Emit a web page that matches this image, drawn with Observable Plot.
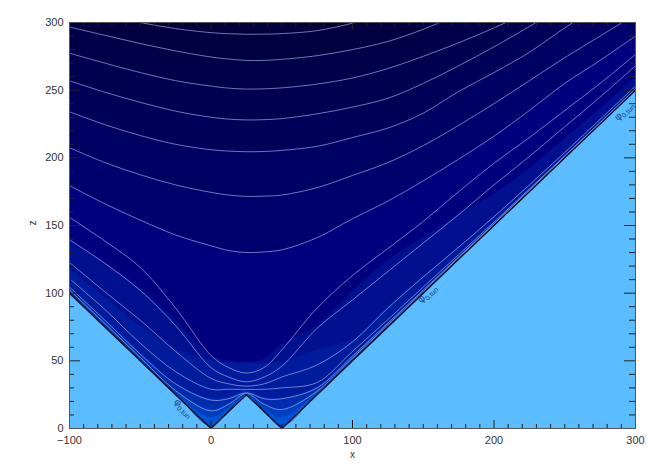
<!DOCTYPE html>
<html><head><meta charset="utf-8">
<script src="https://cdn.jsdelivr.net/npm/d3@7"></script>
<script src="https://cdn.jsdelivr.net/npm/@observablehq/plot@0.6"></script>
<style>body{margin:0;background:#fff;}</style>
</head><body><div id="chart"></div>
<script>
// sample x positions for every contour
const xs = [-100, -75, -50, -25, 0, 12.5, 25, 37.5, 50, 75, 100, 125, 150, 175, 200, 225, 250, 275, 300];
// surface (ground) profile
const ground = [100, 75, 50, 25, 0, 12.5, 25, 12.5, 0, 25, 50, 75, 100, 125, 150, 175, 200, 225, 250];
// contour lines (white), top to bottom: z at each xs
const L1  = [312, 306, 300, 295.5, 292.5, 291.7, 291.3, 291.4, 291.8, 294, 299.5, 307, 316, 326, 337, 349, 362, 376, 390];
const L2  = [296.7, 290.5, 284.5, 279, 274.5, 273, 272, 272, 272.8, 275.5, 280, 286, 295, 306, 318, 331, 345, 359, 373];
const L3  = [277.3, 270, 263, 257, 253, 251.5, 250.8, 251, 251.7, 254.5, 259, 266, 275, 285, 296, 308, 321, 335, 349];
const L4  = [256.9, 248.5, 241, 234.5, 230, 228.6, 228, 228.2, 229, 232.5, 237.5, 244, 255, 268, 282, 297, 313, 329, 345];
const L5  = [234, 224.5, 216.5, 210, 206, 205, 204.5, 204.7, 205.5, 208.5, 215, 222, 233, 249, 263, 278, 296, 313, 330];
const L6  = [207.5, 196.5, 187.5, 180, 174.5, 172.5, 171.5, 171.7, 172.5, 178, 187, 196.5, 209, 224, 240, 257, 274, 290, 306];
const L7  = [179.5, 166, 154, 143, 135, 131.5, 130, 130.5, 132, 141, 155, 168, 183, 199, 216, 235, 255, 272, 290];
const L8  = [156, 138.5, 119, 89, 54, 45, 41, 45, 58, 89, 113, 133, 153, 175, 196, 215, 235, 255, 276.5];
const L9  = [139.5, 122, 102, 76, 45, 38, 34.5, 38, 46, 74, 95, 116, 137, 158, 180, 201, 223, 245, 268];
const L10 = [122.7, 101, 80, 57, 37, 33, 31.3, 33, 38, 47, 64, 89, 112, 134, 156.5, 180, 204, 228.5, 253];
const L11 = [110.7, 88, 63, 42, 29, 29, 28.9, 29, 30, 34, 57, 80.5, 104.5, 128.5, 152.5, 177, 201.5, 226.2, 251];
const L12 = [104.5, 80, 55, 33, 21, 22, 26.4, 22, 22, 30, 53.5, 77.8, 102.2, 126.8, 151.4, 176.1, 200.9, 225.7, 250.6];
const L13 = [102.5, 77.5, 52.5, 28, 13, 18, 25.7, 18, 14, 27.5, 52, 76.5, 101.2, 126, 150.8, 175.6, 200.4, 225.3, 250.3];
// the labelled φ0,tun contour hugging the surface
const PHI = [101, 76, 51, 26, 2, 13.5, 25.3, 13.5, 2, 26, 51, 75.8, 100.6, 125.4, 150.2, 175.1, 200.1, 225, 250.1];
const whiteLines = [L1, L2, L3, L4, L5, L6, L7, L8, L9, L10, L11, L12, L13];
// filled level boundaries near the surface
const FK = [139.5, 122.5, 104, 80, 54, 50, 49, 51, 62, 76, 101, 124, 141, 158, 173, 192, 214, 236, 259];
const FA = [118, 97, 76, 59, 50, 48.5, 48, 48.2, 49, 58, 66, 90, 113, 133, 157, 180, 204, 227.5, 251.5];
const FB = [105, 80.5, 56, 33, 22, 23, 28, 23, 22, 31, 54, 78, 102, 126.5, 151, 176, 200.8, 225.6, 250.5];
const FC = [102.5, 77.5, 52.5, 28, 14, 18, 26, 18, 14, 28, 52.5, 76.8, 101, 125.6, 150.4, 175.3, 200.3, 225.2, 250.2];
const FD = [101.2, 76.2, 51.2, 26.2, 8, 15, 25.5, 15, 8, 26.2, 51.1, 75.9, 100.7, 125.5, 150.3, 175.15, 200.1, 225.05, 250.05];
const fillEdges = [L1, L2, L3, L4, L5, L6, L7, FK, FA, FB, FC, FD];
// colour of each filled level (above the first edge, then below each edge)
const topColor = "#00003a";
const fillColors = ["#000040", "#000048", "#000050", "#000059", "#000063", "#00006d", "#00007e",
                    "#00108e", "#001b9c", "#002cae", "#003ec0", "#0052d4"];
const groundColor = "#5bbcff";
// labels of the φ0,tun contour
const labelX = [-25, 147, 286];
const labelZ = [21, 94, 229];
const labelRot = [44, -44, -44];
// axes
const xMajor = [-100, 0, 100, 200, 300];
const zMajor = [0, 50, 100, 150, 200, 250, 300];
const xMinor = d3.range(-100, 301, 10).filter(v => !xMajor.includes(v));
const zMinor = d3.range(0, 301, 10).filter(v => !zMajor.includes(v));

const rows = zs => xs.map((x, i) => ({x, z: zs[i]}));
const W = 654, H = 472, mL = 69, mR = 19, mT = 22, mB = 44;
const iW = W - mL - mR, iH = H - mT - mB;
const tickCol = "#222";

const marks = [
  Plot.frame({fill: topColor}),
  ...fillEdges.map((F, i) => Plot.areaY(rows(F), {x: "x", y1: 0, y2: "z", fill: fillColors[i], curve: "catmull-rom", clip: true})),
  Plot.areaY(rows(ground), {x: "x", y1: 0, y2: "z", fill: groundColor}),
  ...whiteLines.map(L => Plot.line(rows(L), {x: "x", y: "z", stroke: "#a4b0e6", strokeOpacity: 0.75, strokeWidth: 0.9, curve: "catmull-rom", clip: true})),
  Plot.line(rows(PHI), {x: "x", y: "z", stroke: "#1a2a70", strokeWidth: 0.9, curve: "catmull-rom", clip: true}),
  Plot.line(rows(ground), {x: "x", y: "z", stroke: "#000a26", strokeWidth: 1.3}),
  Plot.text(labelX.map((x, i) => ({x, z: labelZ[i], r: labelRot[i]})), {x: "x", y: "z", rotate: "r", text: () => "φ0,tun", textAnchor: "start", fill: "#1d3f86", fontSize: 10, clip: true}),
  // inward ticks on all four sides
  Plot.ruleX(xMajor, {x: d => d, insetTop: iH - 8, stroke: tickCol}),
  Plot.ruleX(xMinor, {x: d => d, insetTop: iH - 4, stroke: tickCol}),
  Plot.ruleX(xMajor, {x: d => d, insetBottom: iH - 8, stroke: tickCol}),
  Plot.ruleX(xMinor, {x: d => d, insetBottom: iH - 4, stroke: tickCol}),
  Plot.ruleY(zMajor, {y: d => d, insetRight: iW - 11, stroke: tickCol}),
  Plot.ruleY(zMinor, {y: d => d, insetRight: iW - 5, stroke: tickCol}),
  Plot.ruleY(zMajor, {y: d => d, insetLeft: iW - 11, stroke: tickCol}),
  Plot.ruleY(zMinor, {y: d => d, insetLeft: iW - 6, stroke: tickCol}),
  Plot.axisX({ticks: xMajor, tickSize: 0, tickPadding: 8, label: null, fill: "#333", fontSize: 11}),
  Plot.axisY({ticks: zMajor, tickSize: 0, tickPadding: 6, label: null, fill: "#333", fontSize: 11}),
  Plot.text(["x"], {frameAnchor: "bottom", dy: 29, fill: "#333", fontSize: 10}),
  Plot.text(["z"], {frameAnchor: "left", dx: -37, rotate: -90, fill: "#333", fontSize: 10}),
  Plot.frame({stroke: "#555", strokeWidth: 1})
];

const chart = Plot.plot({
  width: W, height: H,
  marginLeft: mL, marginRight: mR, marginTop: mT, marginBottom: mB,
  style: {fontFamily: "'Liberation Sans', Arial, sans-serif", fontSize: "11px", background: "#fff"},
  x: {domain: [-100, 300]},
  y: {domain: [0, 300]},
  marks
});
document.getElementById("chart").appendChild(chart);
chart.querySelectorAll("text").forEach(t => {
  if (t.textContent === "φ0,tun") {
    t.innerHTML = 'φ<tspan font-size="7" dy="2.5">0,tun</tspan>';
  }
});
</script>
</body></html>
